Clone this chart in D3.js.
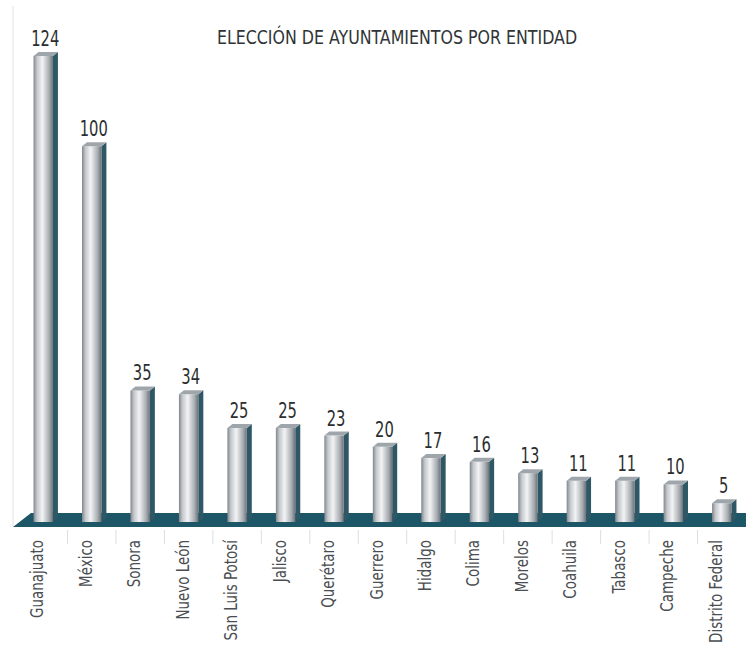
<!DOCTYPE html>
<html>
<head>
<meta charset="utf-8">
<script src="https://cdn.jsdelivr.net/npm/d3@7"></script>
<style>
  body { margin: 0; background: #fff; }
  svg { display: block; }
</style>
</head>
<body>
<script>
const categories = ["Guanajuato", "México", "Sonora", "Nuevo León", "San Luis Potosí", "Jalisco",
    "Querétaro", "Guerrero", "Hidalgo", "Colima", "Morelos", "Coahuila", "Tabasco", "Campeche", "Distrito Federal"];
const values = [124, 100, 35, 34, 25, 25, 23, 20, 17, 16, 13, 11, 11, 10, 5];
const title = "ELECCIÓN DE AYUNTAMIENTOS POR ENTIDAD";

const width = 746, height = 651;
const font = "'DejaVu Sans Condensed', 'Liberation Sans Narrow', sans-serif";

const svg = d3.select("body").append("svg")
    .attr("width", width)
    .attr("height", height);

const defs = svg.append("defs");
const grad = defs.append("linearGradient").attr("id", "barFront");
grad.append("stop").attr("offset", "0%").attr("stop-color", "#80868c");
grad.append("stop").attr("offset", "18%").attr("stop-color", "#c4c8cc");
grad.append("stop").attr("offset", "45%").attr("stop-color", "#f2f3f4");
grad.append("stop").attr("offset", "80%").attr("stop-color", "#a9aeb3");
grad.append("stop").attr("offset", "100%").attr("stop-color", "#6b7278");

const x = d3.scaleBand()
    .domain(categories)
    .range([19, 746])
    .paddingInner(0.6)
    .paddingOuter(0.3);

const y = d3.scaleLinear()
    .domain([0, 124])
    .range([522, 56]);

const depth = 5, rise = 4;

// left axis line
svg.append("line")
    .attr("x1", 13).attr("x2", 13)
    .attr("y1", 6).attr("y2", 526)
    .attr("stroke", "#e0e2e4").attr("stroke-width", 1);

// floor
svg.append("path")
    .attr("d", "M13,527 L31,513 L746,513 L746,527 Z")
    .attr("fill", "#1d5666");

// category separators
const step = x.step();
svg.append("g").selectAll("line")
    .data(categories.slice(1))
    .join("line")
    .attr("x1", d => x(d) - (step - x.bandwidth()) / 2)
    .attr("x2", d => x(d) - (step - x.bandwidth()) / 2)
    .attr("y1", 530).attr("y2", 544)
    .attr("stroke", "#dcdee0");

// bars
const bars = svg.append("g").selectAll("g")
    .data(categories.map((c, i) => ({ c, v: values[i] })))
    .join("g")
    .attr("transform", d => `translate(${x(d.c)},0)`);

const bw = x.bandwidth();

bars.append("path")
    .attr("d", d => `M${bw},${y(d.v)} L${bw + depth},${y(d.v) - rise} L${bw + depth},${y(0) - rise} L${bw},${y(0)} Z`)
    .attr("fill", "#2e5866");

bars.append("rect")
    .attr("x", 0)
    .attr("y", d => y(d.v))
    .attr("width", bw)
    .attr("height", d => y(0) - y(d.v))
    .attr("fill", "url(#barFront)");

bars.append("path")
    .attr("d", d => `M0,${y(d.v)} L${depth},${y(d.v) - rise} L${bw + depth},${y(d.v) - rise} L${bw},${y(d.v)} Z`)
    .attr("fill", "#9ea6ab");

// value labels (condensed look)
bars.append("text")
    .attr("transform", d => `translate(${bw / 2 + 2},${y(d.v) - 10}) scale(0.78,1)`)
    .attr("text-anchor", "middle")
    .style("font-family", font)
    .style("font-size", "21px")
    .attr("fill", "#2b2e30")
    .text(d => d.v);

// category labels
bars.append("text")
    .attr("transform", `translate(${bw / 2},540) rotate(-90) scale(0.88,1)`)
    .attr("text-anchor", "end")
    .style("font-family", font)
    .style("font-size", "17px")
    .attr("fill", "#4a4e52")
    .text(d => d.c);

// title
svg.append("text")
    .attr("transform", "translate(397,44) scale(0.88,1)")
    .attr("text-anchor", "middle")
    .style("font-family", font)
    .style("font-size", "20px")
    .attr("fill", "#303436")
    .text(title);
</script>
</body>
</html>
